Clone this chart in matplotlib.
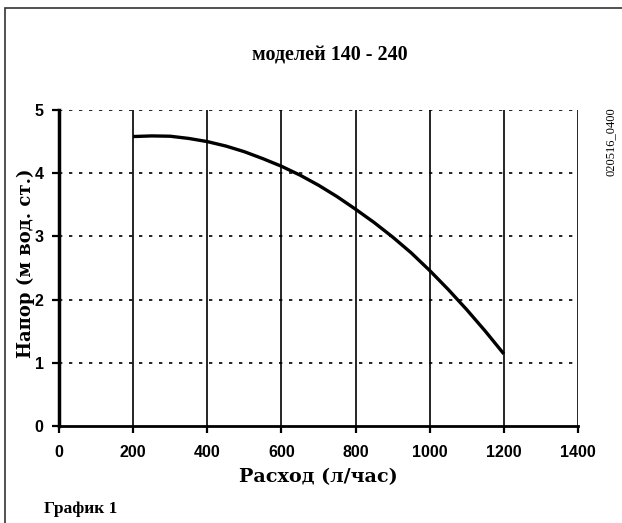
import matplotlib
matplotlib.use("Agg")
import matplotlib.pyplot as plt
from matplotlib.patches import Rectangle

flow = [200, 250, 300, 350, 400, 450, 500, 550, 600, 650, 700, 750, 800,
        850, 900, 950, 1000, 1050, 1100, 1150, 1200]
head = [4.58, 4.59, 4.585, 4.55, 4.50, 4.43, 4.34, 4.23, 4.11, 3.97, 3.81,
        3.63, 3.43, 3.22, 2.99, 2.74, 2.46, 2.16, 1.84, 1.50, 1.14]
xticks = [0, 200, 400, 600, 800, 1000, 1200, 1400]
yticks = [0, 1, 2, 3, 4, 5]

W, H = 622, 523
fig = plt.figure(figsize=(W / 100, H / 100), dpi=100)
fig.patch.set_facecolor("white")

# outer frame
fig.add_artist(Rectangle((5 / W, -0.1), 1.2, (H - 8) / H + 0.1, transform=fig.transFigure,
                         fill=False, edgecolor="#333333", linewidth=1.2))

ax = fig.add_axes([59 / W, (H - 426) / H, (578 - 59) / W, (426 - 110) / H])
ax.set_xlim(0, 1400)
ax.set_ylim(0, 5)

for x in xticks[1:]:
    ax.axvline(x, color="black", linewidth=1.2, zorder=1)
for y in yticks[1:]:
    ax.axhline(y, color="black", linewidth=1.2, linestyle=(0, (2, 4)), zorder=1)

ax.plot(flow, head, color="black", linewidth=2.4, zorder=3, solid_capstyle="butt",
        solid_joinstyle="round")

for s in ["top", "right"]:
    ax.spines[s].set_visible(False)
ax.spines["left"].set_linewidth(2.5)
ax.spines["bottom"].set_linewidth(2.0)

ax.set_xticks(xticks)
ax.set_yticks(yticks)
ax.tick_params(direction="out", length=5, width=1.6, pad=6)
ax.tick_params(axis="x", pad=9)
tickfont = dict(family="Liberation Sans", weight="bold", size=11.5)
ax.set_xticklabels([str(v) for v in xticks], fontdict=tickfont)
ax.set_yticklabels([str(v) for v in yticks], fontdict=tickfont)

serif = "Liberation Serif"
fig.text(330 / W, 1 - 55 / H, "моделей 140 - 240", ha="center", va="center",
         family=serif, weight="bold", fontsize=14.5)
fig.text(318 / W, 1 - 477 / H, "Расход (л/час)",
         ha="center", va="center", family="DejaVu Serif", weight="bold", fontsize=13.8)
fig.text(26 / W, 1 - 263 / H, "Напор (м вод. ст.)", ha="center", va="center", rotation=90,
         family="DejaVu Serif", weight="bold", fontsize=13)
fig.text(44 / W, 1 - 509 / H, "График 1", ha="left", va="center",
         family=serif, weight="bold", fontsize=12.5)
fig.text(611 / W, 1 - 142 / H, "020516_0400", ha="center", va="center", rotation=90,
         family=serif, fontsize=9)

fig.savefig("out.png", dpi=100)
